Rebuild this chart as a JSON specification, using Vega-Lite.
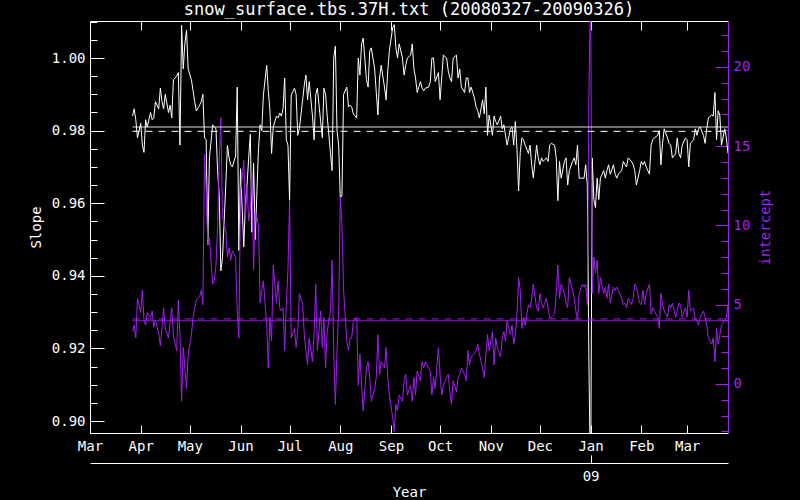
{
  "$schema": "https://vega.github.io/schema/vega-lite/v6.json",
  "width": 638,
  "height": 412,
  "autosize": "none",
  "padding": {"left": 90, "top": 21, "right": 72, "bottom": 67},
  "background": "black",
  "config": {
    "view": {"stroke": null},
    "axis": {
      "grid": false,
      "labelFont": "DejaVu Sans Mono",
      "labelFontSize": 14,
      "titleFont": "DejaVu Sans Mono",
      "titleFontSize": 14,
      "titleFontWeight": "normal",
      "domainColor": "white",
      "tickColor": "white",
      "labelColor": "white",
      "titleColor": "white",
      "labelFlush": false,
      "labelOverlap": false,
      "labelBound": false,
      "tickWidth": 1,
      "domainWidth": 1
    }
  },
  "title": {
    "text": "snow_surface.tbs.37H.txt (20080327-20090326)",
    "color": "white",
    "font": "DejaVu Sans Mono",
    "fontSize": 17,
    "fontWeight": "normal",
    "anchor": "middle",
    "offset": 2
  },
  "datasets": {
    "series": [
      {"date": "2008-03-27", "slope": 0.984, "intercept": 3.3},
      {"date": "2008-03-28", "slope": 0.986, "intercept": 3.7},
      {"date": "2008-03-29", "slope": 0.983, "intercept": 2.9},
      {"date": "2008-03-30", "slope": 0.978, "intercept": 5.4},
      {"date": "2008-04-01", "slope": 0.982, "intercept": 4.5},
      {"date": "2008-04-02", "slope": 0.976, "intercept": 5.9},
      {"date": "2008-04-03", "slope": 0.974, "intercept": 4.0},
      {"date": "2008-04-04", "slope": 0.983, "intercept": 3.7},
      {"date": "2008-04-05", "slope": 0.981, "intercept": 4.5},
      {"date": "2008-04-07", "slope": 0.985, "intercept": 4.2},
      {"date": "2008-04-08", "slope": 0.983, "intercept": 4.6},
      {"date": "2008-04-09", "slope": 0.9835, "intercept": 3.6},
      {"date": "2008-04-10", "slope": 0.988, "intercept": 4.0},
      {"date": "2008-04-12", "slope": 0.986, "intercept": 3.2},
      {"date": "2008-04-13", "slope": 0.9917, "intercept": 2.4},
      {"date": "2008-04-14", "slope": 0.988, "intercept": 3.5},
      {"date": "2008-04-15", "slope": 0.986, "intercept": 4.8},
      {"date": "2008-04-16", "slope": 0.99, "intercept": 3.5},
      {"date": "2008-04-18", "slope": 0.985, "intercept": 2.9},
      {"date": "2008-04-19", "slope": 0.987, "intercept": 4.0},
      {"date": "2008-04-20", "slope": 0.9835, "intercept": 4.8},
      {"date": "2008-04-21", "slope": 0.994, "intercept": 3.0},
      {"date": "2008-04-23", "slope": 0.995, "intercept": 2.1},
      {"date": "2008-04-24", "slope": 0.996, "intercept": 5.3},
      {"date": "2008-04-25", "slope": 0.976, "intercept": 3.0},
      {"date": "2008-04-26", "slope": 1.009, "intercept": -1.1},
      {"date": "2008-04-27", "slope": 0.997, "intercept": 2.3},
      {"date": "2008-04-28", "slope": 1.004, "intercept": 1.0},
      {"date": "2008-04-29", "slope": 1.0077, "intercept": -0.3},
      {"date": "2008-04-30", "slope": 0.997, "intercept": 1.8},
      {"date": "2008-05-02", "slope": 0.994, "intercept": 3.1},
      {"date": "2008-05-03", "slope": 0.991, "intercept": 4.2},
      {"date": "2008-05-04", "slope": 0.988, "intercept": 4.8},
      {"date": "2008-05-05", "slope": 0.9854, "intercept": 5.3},
      {"date": "2008-05-07", "slope": 0.987, "intercept": 5.5},
      {"date": "2008-05-08", "slope": 0.988, "intercept": 5.9},
      {"date": "2008-05-09", "slope": 0.99, "intercept": 5.0},
      {"date": "2008-05-10", "slope": 0.978, "intercept": 14.5},
      {"date": "2008-05-11", "slope": 0.9775, "intercept": 12.2},
      {"date": "2008-05-12", "slope": 0.9486, "intercept": 8.8},
      {"date": "2008-05-13", "slope": 0.9725, "intercept": 9.2},
      {"date": "2008-05-15", "slope": 0.9816, "intercept": 6.3},
      {"date": "2008-05-16", "slope": 0.981, "intercept": 6.5},
      {"date": "2008-05-17", "slope": 0.9805, "intercept": 7.5},
      {"date": "2008-05-18", "slope": 0.969, "intercept": 10.0},
      {"date": "2008-05-19", "slope": 0.962, "intercept": 14.1},
      {"date": "2008-05-20", "slope": 0.9414, "intercept": 16.8},
      {"date": "2008-05-21", "slope": 0.945, "intercept": 10.5},
      {"date": "2008-05-23", "slope": 0.965, "intercept": 9.7},
      {"date": "2008-05-24", "slope": 0.976, "intercept": 8.0},
      {"date": "2008-05-25", "slope": 0.9725, "intercept": 8.6},
      {"date": "2008-05-26", "slope": 0.9706, "intercept": 7.8},
      {"date": "2008-05-27", "slope": 0.97, "intercept": 8.4},
      {"date": "2008-05-29", "slope": 0.973, "intercept": 8.0},
      {"date": "2008-05-30", "slope": 0.992, "intercept": 4.6},
      {"date": "2008-05-31", "slope": 0.947, "intercept": 2.9},
      {"date": "2008-06-01", "slope": 0.9695, "intercept": 12.0},
      {"date": "2008-06-03", "slope": 0.948, "intercept": 14.1},
      {"date": "2008-06-04", "slope": 0.96, "intercept": 10.5},
      {"date": "2008-06-05", "slope": 0.965, "intercept": 12.5},
      {"date": "2008-06-06", "slope": 0.9725, "intercept": 10.3},
      {"date": "2008-06-07", "slope": 0.979, "intercept": 11.0},
      {"date": "2008-06-08", "slope": 0.952, "intercept": 13.2},
      {"date": "2008-06-09", "slope": 0.971, "intercept": 7.2},
      {"date": "2008-06-10", "slope": 0.95, "intercept": 10.9},
      {"date": "2008-06-12", "slope": 0.975, "intercept": 10.1},
      {"date": "2008-06-13", "slope": 0.9816, "intercept": 5.1},
      {"date": "2008-06-14", "slope": 0.98, "intercept": 5.9},
      {"date": "2008-06-15", "slope": 0.9898, "intercept": 6.5},
      {"date": "2008-06-17", "slope": 0.998, "intercept": 3.7},
      {"date": "2008-06-18", "slope": 0.991, "intercept": 1.0},
      {"date": "2008-06-19", "slope": 0.9855, "intercept": 4.2},
      {"date": "2008-06-20", "slope": 0.9737, "intercept": 2.7},
      {"date": "2008-06-21", "slope": 0.981, "intercept": 7.5},
      {"date": "2008-06-23", "slope": 0.984, "intercept": 5.1},
      {"date": "2008-06-24", "slope": 0.9835, "intercept": 6.5},
      {"date": "2008-06-25", "slope": 0.9848, "intercept": 4.8},
      {"date": "2008-06-26", "slope": 0.984, "intercept": 4.6},
      {"date": "2008-06-27", "slope": 0.986, "intercept": 4.8},
      {"date": "2008-06-28", "slope": 0.9945, "intercept": 2.1},
      {"date": "2008-06-29", "slope": 0.9775, "intercept": 5.0},
      {"date": "2008-06-30", "slope": 0.976, "intercept": 7.2},
      {"date": "2008-07-01", "slope": 0.9607, "intercept": 11.6},
      {"date": "2008-07-02", "slope": 0.9898, "intercept": 2.9},
      {"date": "2008-07-04", "slope": 0.9917, "intercept": 3.5},
      {"date": "2008-07-05", "slope": 0.99, "intercept": 2.3},
      {"date": "2008-07-06", "slope": 0.9787, "intercept": 3.3},
      {"date": "2008-07-07", "slope": 0.9806, "intercept": 5.7},
      {"date": "2008-07-09", "slope": 0.9885, "intercept": 5.0},
      {"date": "2008-07-10", "slope": 0.9926, "intercept": 3.1},
      {"date": "2008-07-11", "slope": 0.9953, "intercept": 2.1},
      {"date": "2008-07-12", "slope": 0.9885, "intercept": 1.2},
      {"date": "2008-07-13", "slope": 0.9935, "intercept": 2.9},
      {"date": "2008-07-15", "slope": 0.984, "intercept": 1.4},
      {"date": "2008-07-16", "slope": 0.9775, "intercept": 3.3},
      {"date": "2008-07-17", "slope": 0.99, "intercept": 6.3},
      {"date": "2008-07-18", "slope": 0.9917, "intercept": 2.1},
      {"date": "2008-07-20", "slope": 0.9825, "intercept": 4.6},
      {"date": "2008-07-21", "slope": 0.978, "intercept": 2.3},
      {"date": "2008-07-22", "slope": 0.9917, "intercept": 4.2},
      {"date": "2008-07-23", "slope": 0.99, "intercept": 1.0},
      {"date": "2008-07-24", "slope": 0.984, "intercept": 3.3},
      {"date": "2008-07-26", "slope": 0.9737, "intercept": 4.6},
      {"date": "2008-07-27", "slope": 0.969, "intercept": 7.8},
      {"date": "2008-07-28", "slope": 1.0, "intercept": 2.0},
      {"date": "2008-07-29", "slope": 1.0033, "intercept": -1.3},
      {"date": "2008-07-30", "slope": 0.98, "intercept": 2.1},
      {"date": "2008-07-31", "slope": 0.976, "intercept": 4.6},
      {"date": "2008-08-01", "slope": 0.9615, "intercept": 11.8},
      {"date": "2008-08-02", "slope": 0.962, "intercept": 10.1},
      {"date": "2008-08-03", "slope": 0.99, "intercept": 5.9},
      {"date": "2008-08-05", "slope": 0.992, "intercept": 2.7},
      {"date": "2008-08-06", "slope": 0.9865, "intercept": 2.1},
      {"date": "2008-08-07", "slope": 0.987, "intercept": 2.9},
      {"date": "2008-08-08", "slope": 0.9865, "intercept": 2.9},
      {"date": "2008-08-09", "slope": 0.9846, "intercept": 4.0},
      {"date": "2008-08-11", "slope": 0.9835, "intercept": 4.2},
      {"date": "2008-08-12", "slope": 1.0, "intercept": -0.1},
      {"date": "2008-08-13", "slope": 0.9953, "intercept": 1.9},
      {"date": "2008-08-14", "slope": 1.0039, "intercept": -0.1},
      {"date": "2008-08-15", "slope": 1.0055, "intercept": -1.7},
      {"date": "2008-08-17", "slope": 0.994, "intercept": 1.0},
      {"date": "2008-08-18", "slope": 0.992, "intercept": 1.4},
      {"date": "2008-08-19", "slope": 1.002, "intercept": 0.4},
      {"date": "2008-08-20", "slope": 1.0028, "intercept": -1.1},
      {"date": "2008-08-22", "slope": 0.997, "intercept": -0.3},
      {"date": "2008-08-23", "slope": 0.9905, "intercept": 0.4},
      {"date": "2008-08-24", "slope": 0.9843, "intercept": 3.1},
      {"date": "2008-08-25", "slope": 0.9945, "intercept": 0.6},
      {"date": "2008-08-26", "slope": 0.998, "intercept": 1.4},
      {"date": "2008-08-28", "slope": 0.992, "intercept": 1.0},
      {"date": "2008-08-29", "slope": 0.9885, "intercept": 2.3},
      {"date": "2008-08-30", "slope": 0.9964, "intercept": 0.4},
      {"date": "2008-08-31", "slope": 1.002, "intercept": -0.7},
      {"date": "2008-09-02", "slope": 1.0083, "intercept": -2.1},
      {"date": "2008-09-03", "slope": 1.0092, "intercept": -3.0},
      {"date": "2008-09-04", "slope": 1.0028, "intercept": -1.3},
      {"date": "2008-09-05", "slope": 1.0, "intercept": -1.7},
      {"date": "2008-09-06", "slope": 1.0039, "intercept": -0.7},
      {"date": "2008-09-08", "slope": 1.0, "intercept": -1.1},
      {"date": "2008-09-09", "slope": 0.9953, "intercept": 0.2},
      {"date": "2008-09-10", "slope": 0.998, "intercept": 0.6},
      {"date": "2008-09-11", "slope": 1.0, "intercept": -0.7},
      {"date": "2008-09-13", "slope": 1.0008, "intercept": -0.1},
      {"date": "2008-09-14", "slope": 1.0039, "intercept": -1.1},
      {"date": "2008-09-15", "slope": 0.997, "intercept": 0.4},
      {"date": "2008-09-16", "slope": 0.9945, "intercept": -0.7},
      {"date": "2008-09-17", "slope": 0.9905, "intercept": 0.8},
      {"date": "2008-09-19", "slope": 0.9935, "intercept": 0.2},
      {"date": "2008-09-20", "slope": 0.9917, "intercept": 1.4},
      {"date": "2008-09-21", "slope": 0.991, "intercept": 1.0},
      {"date": "2008-09-22", "slope": 0.9917, "intercept": 1.4},
      {"date": "2008-09-24", "slope": 0.992, "intercept": 1.0},
      {"date": "2008-09-25", "slope": 0.9935, "intercept": 0.8},
      {"date": "2008-09-26", "slope": 1.0, "intercept": -0.7},
      {"date": "2008-09-27", "slope": 1.0, "intercept": 0.4},
      {"date": "2008-09-28", "slope": 0.9935, "intercept": -0.3},
      {"date": "2008-09-30", "slope": 0.996, "intercept": 2.3},
      {"date": "2008-10-01", "slope": 0.9885, "intercept": 0.6},
      {"date": "2008-10-02", "slope": 0.9945, "intercept": -0.7},
      {"date": "2008-10-03", "slope": 1.0008, "intercept": -0.1},
      {"date": "2008-10-05", "slope": 1.0, "intercept": 0.4},
      {"date": "2008-10-06", "slope": 0.9964, "intercept": 0.6},
      {"date": "2008-10-07", "slope": 0.9945, "intercept": -0.5},
      {"date": "2008-10-08", "slope": 0.9935, "intercept": -1.3},
      {"date": "2008-10-09", "slope": 1.0, "intercept": 0.2},
      {"date": "2008-10-11", "slope": 1.0008, "intercept": -0.5},
      {"date": "2008-10-12", "slope": 0.9945, "intercept": 0.4},
      {"date": "2008-10-13", "slope": 0.997, "intercept": 0.6},
      {"date": "2008-10-14", "slope": 0.992, "intercept": 1.0},
      {"date": "2008-10-16", "slope": 0.9905, "intercept": 0.6},
      {"date": "2008-10-17", "slope": 0.9945, "intercept": 0.2},
      {"date": "2008-10-18", "slope": 0.9945, "intercept": 2.1},
      {"date": "2008-10-19", "slope": 0.9905, "intercept": 1.2},
      {"date": "2008-10-20", "slope": 0.992, "intercept": 1.7},
      {"date": "2008-10-22", "slope": 0.989, "intercept": 1.9},
      {"date": "2008-10-23", "slope": 0.9865, "intercept": 2.1},
      {"date": "2008-10-24", "slope": 0.9855, "intercept": 2.5},
      {"date": "2008-10-25", "slope": 0.9835, "intercept": 1.9},
      {"date": "2008-10-27", "slope": 0.9885, "intercept": 1.0},
      {"date": "2008-10-28", "slope": 0.9846, "intercept": 0.4},
      {"date": "2008-10-29", "slope": 0.992, "intercept": 1.9},
      {"date": "2008-10-30", "slope": 0.9787, "intercept": 3.1},
      {"date": "2008-10-31", "slope": 0.9843, "intercept": 2.1},
      {"date": "2008-11-02", "slope": 0.9787, "intercept": 3.3},
      {"date": "2008-11-03", "slope": 0.984, "intercept": 1.2},
      {"date": "2008-11-04", "slope": 0.9825, "intercept": 2.9},
      {"date": "2008-11-05", "slope": 0.9816, "intercept": 2.3},
      {"date": "2008-11-07", "slope": 0.984, "intercept": 1.7},
      {"date": "2008-11-08", "slope": 0.9805, "intercept": 2.9},
      {"date": "2008-11-09", "slope": 0.9816, "intercept": 3.3},
      {"date": "2008-11-10", "slope": 0.9787, "intercept": 2.7},
      {"date": "2008-11-11", "slope": 0.976, "intercept": 4.0},
      {"date": "2008-11-13", "slope": 0.9805, "intercept": 3.1},
      {"date": "2008-11-14", "slope": 0.981, "intercept": 3.7},
      {"date": "2008-11-15", "slope": 0.976, "intercept": 2.5},
      {"date": "2008-11-16", "slope": 0.9825, "intercept": 3.1},
      {"date": "2008-11-17", "slope": 0.975, "intercept": 4.4},
      {"date": "2008-11-18", "slope": 0.9634, "intercept": 6.7},
      {"date": "2008-11-19", "slope": 0.974, "intercept": 5.9},
      {"date": "2008-11-20", "slope": 0.978, "intercept": 3.5},
      {"date": "2008-11-21", "slope": 0.9775, "intercept": 4.2},
      {"date": "2008-11-22", "slope": 0.976, "intercept": 3.7},
      {"date": "2008-11-24", "slope": 0.9737, "intercept": 5.0},
      {"date": "2008-11-25", "slope": 0.976, "intercept": 4.8},
      {"date": "2008-11-26", "slope": 0.9706, "intercept": 5.4},
      {"date": "2008-11-27", "slope": 0.9669, "intercept": 6.3},
      {"date": "2008-11-29", "slope": 0.976, "intercept": 4.8},
      {"date": "2008-11-30", "slope": 0.9725, "intercept": 4.6},
      {"date": "2008-12-01", "slope": 0.9706, "intercept": 5.7},
      {"date": "2008-12-02", "slope": 0.9725, "intercept": 5.1},
      {"date": "2008-12-03", "slope": 0.9715, "intercept": 4.8},
      {"date": "2008-12-05", "slope": 0.9725, "intercept": 5.4},
      {"date": "2008-12-06", "slope": 0.9715, "intercept": 4.8},
      {"date": "2008-12-07", "slope": 0.976, "intercept": 4.2},
      {"date": "2008-12-08", "slope": 0.9765, "intercept": 4.2},
      {"date": "2008-12-10", "slope": 0.976, "intercept": 4.4},
      {"date": "2008-12-11", "slope": 0.9725, "intercept": 5.7},
      {"date": "2008-12-12", "slope": 0.9607, "intercept": 7.5},
      {"date": "2008-12-13", "slope": 0.9715, "intercept": 5.4},
      {"date": "2008-12-14", "slope": 0.9669, "intercept": 6.3},
      {"date": "2008-12-16", "slope": 0.9715, "intercept": 5.7},
      {"date": "2008-12-17", "slope": 0.9725, "intercept": 5.1},
      {"date": "2008-12-18", "slope": 0.965, "intercept": 4.8},
      {"date": "2008-12-19", "slope": 0.969, "intercept": 6.7},
      {"date": "2008-12-21", "slope": 0.9715, "intercept": 5.9},
      {"date": "2008-12-22", "slope": 0.9725, "intercept": 5.4},
      {"date": "2008-12-23", "slope": 0.9706, "intercept": 4.6},
      {"date": "2008-12-24", "slope": 0.976, "intercept": 4.0},
      {"date": "2008-12-25", "slope": 0.9669, "intercept": 5.7},
      {"date": "2008-12-27", "slope": 0.9669, "intercept": 6.3},
      {"date": "2008-12-28", "slope": 0.9669, "intercept": 6.1},
      {"date": "2008-12-29", "slope": 0.9706, "intercept": 6.3},
      {"date": "2008-12-30", "slope": 0.965, "intercept": 5.0},
      {"date": "2008-12-31", "slope": 0.9155, "intercept": 18.5},
      {"date": "2009-01-01", "slope": 0.88, "intercept": 25.0},
      {"date": "2009-01-02", "slope": 0.9725, "intercept": 5.7},
      {"date": "2009-01-03", "slope": 0.961, "intercept": 8.0},
      {"date": "2009-01-04", "slope": 0.9588, "intercept": 7.0},
      {"date": "2009-01-05", "slope": 0.9669, "intercept": 7.8},
      {"date": "2009-01-06", "slope": 0.961, "intercept": 5.7},
      {"date": "2009-01-07", "slope": 0.9669, "intercept": 6.7},
      {"date": "2009-01-09", "slope": 0.969, "intercept": 5.7},
      {"date": "2009-01-10", "slope": 0.9669, "intercept": 6.1},
      {"date": "2009-01-11", "slope": 0.969, "intercept": 5.4},
      {"date": "2009-01-12", "slope": 0.9706, "intercept": 6.3},
      {"date": "2009-01-13", "slope": 0.968, "intercept": 5.1},
      {"date": "2009-01-15", "slope": 0.9706, "intercept": 6.1},
      {"date": "2009-01-16", "slope": 0.968, "intercept": 5.9},
      {"date": "2009-01-17", "slope": 0.9669, "intercept": 6.1},
      {"date": "2009-01-18", "slope": 0.968, "intercept": 5.9},
      {"date": "2009-01-20", "slope": 0.969, "intercept": 5.4},
      {"date": "2009-01-21", "slope": 0.9715, "intercept": 5.0},
      {"date": "2009-01-22", "slope": 0.9706, "intercept": 5.1},
      {"date": "2009-01-23", "slope": 0.97, "intercept": 4.8},
      {"date": "2009-01-24", "slope": 0.9725, "intercept": 5.4},
      {"date": "2009-01-26", "slope": 0.9715, "intercept": 5.0},
      {"date": "2009-01-27", "slope": 0.9706, "intercept": 5.4},
      {"date": "2009-01-28", "slope": 0.969, "intercept": 6.3},
      {"date": "2009-01-29", "slope": 0.965, "intercept": 6.1},
      {"date": "2009-01-31", "slope": 0.969, "intercept": 5.1},
      {"date": "2009-02-01", "slope": 0.9715, "intercept": 5.0},
      {"date": "2009-02-02", "slope": 0.9706, "intercept": 5.9},
      {"date": "2009-02-03", "slope": 0.9715, "intercept": 5.0},
      {"date": "2009-02-04", "slope": 0.97, "intercept": 5.7},
      {"date": "2009-02-06", "slope": 0.968, "intercept": 6.3},
      {"date": "2009-02-07", "slope": 0.976, "intercept": 4.4},
      {"date": "2009-02-08", "slope": 0.9775, "intercept": 4.8},
      {"date": "2009-02-09", "slope": 0.978, "intercept": 4.6},
      {"date": "2009-02-11", "slope": 0.9787, "intercept": 4.2},
      {"date": "2009-02-12", "slope": 0.98, "intercept": 3.5},
      {"date": "2009-02-13", "slope": 0.9706, "intercept": 5.7},
      {"date": "2009-02-14", "slope": 0.9765, "intercept": 5.0},
      {"date": "2009-02-15", "slope": 0.9805, "intercept": 4.6},
      {"date": "2009-02-17", "slope": 0.978, "intercept": 4.2},
      {"date": "2009-02-18", "slope": 0.9765, "intercept": 5.0},
      {"date": "2009-02-19", "slope": 0.976, "intercept": 4.8},
      {"date": "2009-02-20", "slope": 0.9725, "intercept": 5.1},
      {"date": "2009-02-22", "slope": 0.9737, "intercept": 4.2},
      {"date": "2009-02-23", "slope": 0.978, "intercept": 4.6},
      {"date": "2009-02-24", "slope": 0.9737, "intercept": 5.1},
      {"date": "2009-02-25", "slope": 0.9725, "intercept": 5.0},
      {"date": "2009-02-26", "slope": 0.976, "intercept": 4.2},
      {"date": "2009-02-28", "slope": 0.978, "intercept": 4.8},
      {"date": "2009-03-01", "slope": 0.9775, "intercept": 4.2},
      {"date": "2009-03-02", "slope": 0.97, "intercept": 5.9},
      {"date": "2009-03-03", "slope": 0.9765, "intercept": 4.6},
      {"date": "2009-03-05", "slope": 0.9775, "intercept": 4.8},
      {"date": "2009-03-06", "slope": 0.9805, "intercept": 4.0},
      {"date": "2009-03-07", "slope": 0.9787, "intercept": 4.0},
      {"date": "2009-03-08", "slope": 0.9805, "intercept": 3.7},
      {"date": "2009-03-09", "slope": 0.981, "intercept": 4.2},
      {"date": "2009-03-11", "slope": 0.9787, "intercept": 4.6},
      {"date": "2009-03-12", "slope": 0.9765, "intercept": 4.2},
      {"date": "2009-03-13", "slope": 0.9805, "intercept": 3.7},
      {"date": "2009-03-14", "slope": 0.9835, "intercept": 2.9},
      {"date": "2009-03-16", "slope": 0.9843, "intercept": 2.5},
      {"date": "2009-03-17", "slope": 0.984, "intercept": 2.9},
      {"date": "2009-03-18", "slope": 0.9905, "intercept": 1.4},
      {"date": "2009-03-19", "slope": 0.9775, "intercept": 3.5},
      {"date": "2009-03-20", "slope": 0.9855, "intercept": 2.5},
      {"date": "2009-03-21", "slope": 0.9843, "intercept": 3.1},
      {"date": "2009-03-22", "slope": 0.976, "intercept": 3.7},
      {"date": "2009-03-24", "slope": 0.9805, "intercept": 4.0},
      {"date": "2009-03-25", "slope": 0.978, "intercept": 4.2},
      {"date": "2009-03-26", "slope": 0.9737, "intercept": 5.0}
    ],
    "slopeRefs": [
      {"start": "2008-03-27", "end": "2009-03-26", "value": 0.981, "kind": "mean"},
      {"start": "2008-03-27", "end": "2009-03-26", "value": 0.9798, "kind": "median"}
    ],
    "interceptRefs": [
      {"start": "2008-03-27", "end": "2009-03-26", "value": 3.99, "kind": "mean"},
      {"start": "2008-03-27", "end": "2009-03-26", "value": 4.1, "kind": "median"}
    ]
  },
  "layer": [
    {
      "data": {"name": "series"},
      "mark": {"type": "line", "color": "white", "strokeWidth": 1, "clip": true},
      "encoding": {
        "x": {
          "field": "date", "type": "temporal",
          "scale": {"type": "utc", "domain": [{"year": 2008, "month": 3, "date": 1, "utc": true}, {"year": 2009, "month": 3, "date": 26, "utc": true}]},
          "axis": {
            "orient": "bottom", "title": null, "format": "%b", "tickSize": -8, "labelPadding": 14,
            "values": [
              {"year": 2008, "month": 3, "date": 1, "utc": true},
              {"year": 2008, "month": 4, "date": 1, "utc": true},
              {"year": 2008, "month": 5, "date": 1, "utc": true},
              {"year": 2008, "month": 6, "date": 1, "utc": true},
              {"year": 2008, "month": 7, "date": 1, "utc": true},
              {"year": 2008, "month": 8, "date": 1, "utc": true},
              {"year": 2008, "month": 9, "date": 1, "utc": true},
              {"year": 2008, "month": 10, "date": 1, "utc": true},
              {"year": 2008, "month": 11, "date": 1, "utc": true},
              {"year": 2008, "month": 12, "date": 1, "utc": true},
              {"year": 2009, "month": 1, "date": 1, "utc": true},
              {"year": 2009, "month": 2, "date": 1, "utc": true},
              {"year": 2009, "month": 3, "date": 1, "utc": true}
            ]
          }
        },
        "y": {
          "field": "slope", "type": "quantitative",
          "scale": {"domain": [0.8967, 1.0102], "zero": false, "nice": false},
          "axis": {
            "orient": "left", "title": "Slope", "titlePadding": 8, "format": ".2f",
            "values": [0.90, 0.92, 0.94, 0.96, 0.98, 1.00],
            "tickSize": -14, "labelPadding": 19
          }
        }
      }
    },
    {
      "data": {"name": "series"},
      "mark": {"type": "line", "color": "#a020f0", "strokeWidth": 1, "clip": true},
      "encoding": {
        "x": {
          "field": "date", "type": "temporal",
          "scale": {"type": "utc", "domain": [{"year": 2008, "month": 3, "date": 1, "utc": true}, {"year": 2009, "month": 3, "date": 26, "utc": true}]},
          "axis": null
        },
        "y": {
          "field": "intercept", "type": "quantitative",
          "scale": {"domain": [-3.1, 22.9], "zero": false, "nice": false},
          "axis": {
            "orient": "right", "title": "intercept", "titleAngle": 270,
            "titleX": 37, "titleY": 206, "titleAlign": "center", "titleBaseline": "middle",
            "values": [0, 5, 10, 15, 20], "format": "d",
            "tickSize": -13, "labelPadding": 18,
            "domainColor": "#a020f0", "tickColor": "#a020f0", "labelColor": "#a020f0", "titleColor": "#a020f0"
          }
        }
      }
    },
    {
      "data": {"name": "slopeRefs"},
      "mark": {"type": "rule", "color": "white", "strokeWidth": 1},
      "encoding": {
        "x": {
          "field": "start", "type": "temporal",
          "scale": {"type": "utc", "domain": [{"year": 2008, "month": 3, "date": 1, "utc": true}, {"year": 2009, "month": 3, "date": 26, "utc": true}]},
          "axis": {
            "orient": "top", "title": null, "labels": false, "tickSize": -9,
            "values": [
              {"year": 2008, "month": 4, "date": 1, "utc": true},
              {"year": 2008, "month": 5, "date": 1, "utc": true},
              {"year": 2008, "month": 6, "date": 1, "utc": true},
              {"year": 2008, "month": 7, "date": 1, "utc": true},
              {"year": 2008, "month": 8, "date": 1, "utc": true},
              {"year": 2008, "month": 9, "date": 1, "utc": true},
              {"year": 2008, "month": 10, "date": 1, "utc": true},
              {"year": 2008, "month": 11, "date": 1, "utc": true},
              {"year": 2008, "month": 12, "date": 1, "utc": true},
              {"year": 2009, "month": 1, "date": 1, "utc": true},
              {"year": 2009, "month": 2, "date": 1, "utc": true},
              {"year": 2009, "month": 3, "date": 1, "utc": true}
            ]
          }
        },
        "x2": {"field": "end"},
        "y": {
          "field": "value", "type": "quantitative",
          "scale": {"domain": [0.8967, 1.0102], "zero": false, "nice": false},
          "axis": {
            "orient": "left", "title": null, "labels": false, "domain": false, "tickSize": -7,
            "values": [0.900, 0.905, 0.910, 0.915, 0.920, 0.925, 0.930, 0.935, 0.940, 0.945, 0.950, 0.955, 0.960, 0.965, 0.970, 0.975, 0.980, 0.985, 0.990, 0.995, 1.000, 1.005, 1.010]
          }
        },
        "strokeDash": {"field": "kind", "type": "nominal", "scale": {"domain": ["mean", "median"], "range": [[1, 0], [7, 6]]}, "legend": null}
      }
    },
    {
      "data": {"name": "interceptRefs"},
      "mark": {"type": "rule", "color": "#a020f0", "strokeWidth": 1},
      "encoding": {
        "x": {
          "field": "start", "type": "temporal",
          "scale": {"type": "utc", "domain": [{"year": 2008, "month": 3, "date": 1, "utc": true}, {"year": 2009, "month": 3, "date": 26, "utc": true}]},
          "axis": {
            "orient": "bottom", "offset": 30, "title": "Year", "titlePadding": 2, "format": "%y",
            "tickSize": -8, "labelPadding": 14,
            "values": [{"year": 2009, "month": 1, "date": 1, "utc": true}]
          }
        },
        "x2": {"field": "end"},
        "y": {
          "field": "value", "type": "quantitative",
          "scale": {"domain": [-3.1, 22.9], "zero": false, "nice": false},
          "axis": {
            "orient": "right", "title": null, "labels": false, "domain": false, "tickSize": -7,
            "tickColor": "#a020f0",
            "values": [-3, -2, -1, 0, 1, 2, 3, 4, 5, 6, 7, 8, 9, 10, 11, 12, 13, 14, 15, 16, 17, 18, 19, 20, 21, 22]
          }
        },
        "strokeDash": {"field": "kind", "type": "nominal", "scale": {"domain": ["mean", "median"], "range": [[1, 0], [7, 6]]}, "legend": null}
      }
    }
  ],
  "resolve": {
    "scale": {"x": "independent", "y": "independent"},
    "axis": {"x": "independent", "y": "independent"}
  }
}
